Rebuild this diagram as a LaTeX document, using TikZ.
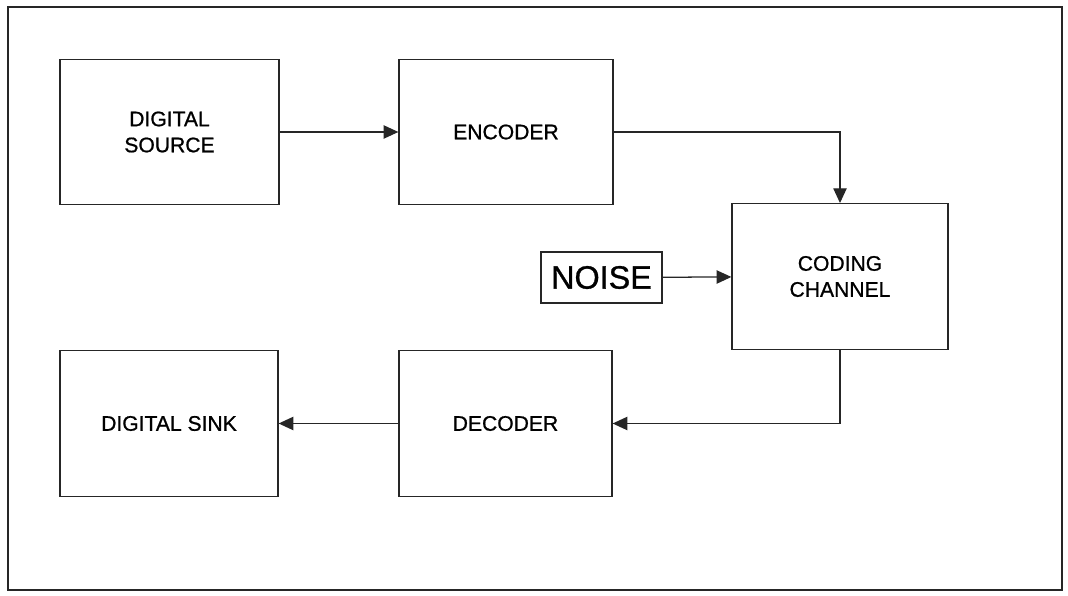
\documentclass[tikz,border=0pt]{standalone}
\usepackage{fontspec}
\setmainfont{Liberation Sans}
\newfontfamily\scanfont{Liberation Sans}[FakeBold=0.9]
\usetikzlibrary{arrows.meta}

\begin{document}
\begin{tikzpicture}[x=0.025cm, y=-0.025cm, line width=0.9pt, draw=black!85,
  block/.style={draw=black!85, line width=0.9pt, minimum width=#1*0.025cm,
    minimum height=3.64cm, align=center, font=\scanfont\fontsize{15}{18.5}\selectfont,
    inner sep=0pt},
  flow/.style={-{Triangle[length=10.5pt, width=9.5pt]}, draw=black!85, line width=0.9pt}]
  % 外框
  \useasboundingbox (0,0) rectangle (1068,596);
  \draw[line width=1.5pt, black!85] (8,7) rectangle (1062,590);

  % 上行
  \node[block=219] (src) at (169.5,132) {DIGITAL\\SOURCE};
  \node[block=214] (enc) at (506,132)   {ENCODER};
  % 信道与噪声
  \node[block=216] (chan) at (840,276.5) {CODING\\CHANNEL};
  \node[draw=black!85, line width=1.5pt, minimum width=3.025cm, minimum height=1.275cm,
    inner sep=0pt, font=\scanfont\fontsize{23}{26}\selectfont] (noise) at (601.5,277.5) {NOISE};
  % 下行
  \node[block=218] (sink) at (169,423.5) {DIGITAL SINK};
  \node[block=213] (dec)  at (505.5,423.5) {DECODER};

  \draw[flow] (src) -- (enc);
  \draw[flow] (enc.east) -| (chan.north);
  \draw[flow] (noise) -- (chan);
  \draw[flow] (chan.south) |- (dec.east);
  \draw[flow] (dec) -- (sink);
\end{tikzpicture}
\end{document}
